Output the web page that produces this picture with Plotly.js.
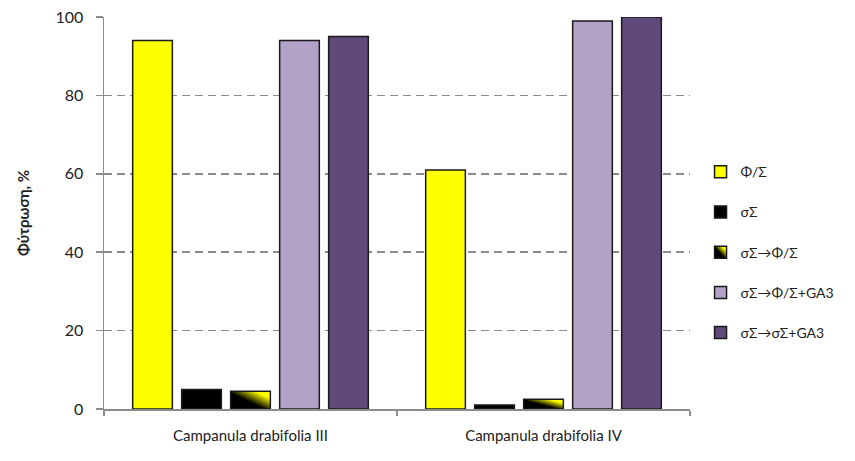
<!DOCTYPE html>
<html>
<head>
<meta charset="utf-8">
<script src="https://cdn.plot.ly/plotly-3.0.1.min.js"></script>
<style>html,body{margin:0;padding:0;background:#fff}#chart{width:855px;height:461px}</style>
</head>
<body>
<div id="chart"></div>
<script>
const categories = ["Campanula drabifolia III", "Campanula drabifolia IV"];
const seriesNames = ["Φ/Σ", "σΣ", "σΣ→Φ/Σ", "σΣ→Φ/Σ+GA3", "σΣ→σΣ+GA3"];
const seriesPhiSigma = [94, 61];
const seriesSigma = [5, 1];
const seriesSigmaToPhi = [4.5, 2.5];
const seriesSigmaToPhiGA3 = [94, 99];
const seriesSigmaToSigmaGA3 = [95, 100];
const seriesColors = ["#FFFF00", "#000000", "#000000", "#B3A2C7", "#604A7B"];
const yTicks = [0, 20, 40, 60, 80, 100];

const allValues = [seriesPhiSigma, seriesSigma, seriesSigmaToPhi, seriesSigmaToPhiGA3, seriesSigmaToSigmaGA3];
const font = "Lato, 'Open Sans', sans-serif";

const traces = allValues.map((vals, i) => ({
  type: "bar",
  name: seriesNames[i],
  x: categories,
  y: vals,
  legendgroup: "g" + i,
  marker: {color: seriesColors[i], line: {color: "#1a1a1a", width: 1.5}},
  hoverinfo: "skip"
}));

const layout = {
  width: 855, height: 461,
  margin: {l: 104, r: 165, t: 17, b: 52},
  paper_bgcolor: "#fff", plot_bgcolor: "#fff",
  barmode: "group", bargap: 0.164, bargroupgap: 0.19,
  font: {family: font, size: 15, color: "#222"},
  showlegend: true,
  legend: {x: 1.018, xanchor: "left", y: 0.40, yanchor: "middle",
           traceorder: "grouped", tracegroupgap: 19,
           font: {family: font, size: 14, color: "#222"},
           bgcolor: "rgba(0,0,0,0)"},
  xaxis: {showline: true, linecolor: "#8c8c8c", linewidth: 2,
          ticks: "outside", tickson: "boundaries", ticklen: 5, tickcolor: "#8c8c8c", tickwidth: 1.5,
          ticklabelstandoff: 12,
          showgrid: false, zeroline: false,
          tickfont: {family: font, size: 15, color: "#222"}},
  yaxis: {range: [0, 100], tickvals: yTicks, showline: true, linecolor: "#8c8c8c", linewidth: 1.5,
          ticks: "outside", ticklen: 7, tickcolor: "#8c8c8c", tickwidth: 1.5,
          ticklabelstandoff: 9,
          showgrid: true, gridcolor: "#8c8c8c", gridwidth: 1.5, griddash: "8px,5px",
          zeroline: false,
          tickfont: {family: font, size: 16, color: "#222"},
          title: {text: "<b>Φύτρωση, %</b>", font: {family: font, size: 15, color: "#222"}, standoff: 22}}
};

function applyGradient(gd) {
  const svg = gd.querySelector("svg.main-svg");
  let defs = svg.querySelector("defs");
  if (!svg.querySelector("#yellowGrad")) {
    const ns = "http://www.w3.org/2000/svg";
    const g = document.createElementNS(ns, "linearGradient");
    g.setAttribute("id", "yellowGrad");
    g.setAttribute("x1", "0.25"); g.setAttribute("y1", "0.85");
    g.setAttribute("x2", "0.95"); g.setAttribute("y2", "0.2");
    [["0.35", "#000000"], ["0.9", "#FFFF00"]].forEach(([o, c]) => {
      const s = document.createElementNS(ns, "stop");
      s.setAttribute("offset", o); s.setAttribute("stop-color", c);
      g.appendChild(s);
    });
    defs.appendChild(g);
  }
  const barTraces = gd.querySelectorAll(".barlayer .trace.bars");
  if (barTraces[2]) barTraces[2].querySelectorAll("path").forEach(p => p.style.fill = "url(#yellowGrad)");
  const legendItems = gd.querySelectorAll(".legend .traces");
  if (legendItems[2]) legendItems[2].querySelectorAll(".legendpoints path").forEach(p => p.style.fill = "url(#yellowGrad)");
}

Plotly.newPlot("chart", traces, layout, {displayModeBar: false, staticPlot: true}).then(gd => applyGradient(gd));
</script>
</body>
</html>
